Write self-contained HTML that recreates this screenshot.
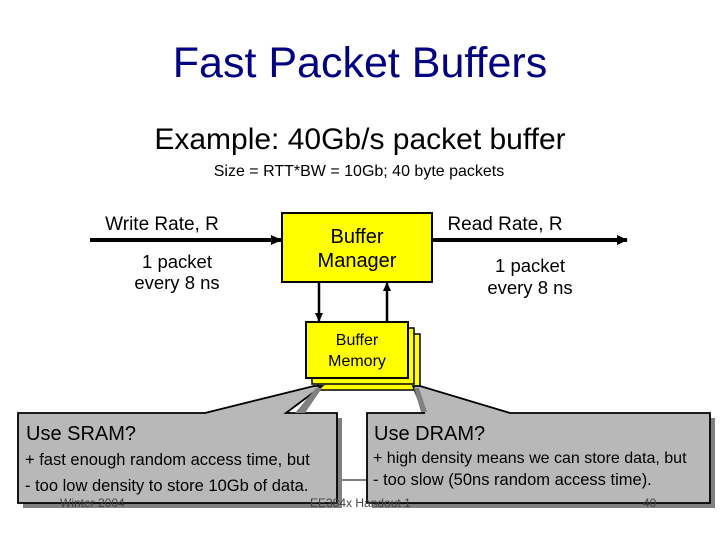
<!DOCTYPE html>
<html><head><meta charset="utf-8"><style>
body{margin:0;width:720px;height:540px;background:#fff;overflow:hidden;font-family:"Liberation Sans",sans-serif}
</style></head><body>
<svg width="720" height="540" xmlns="http://www.w3.org/2000/svg" font-family="Liberation Sans, sans-serif">
<defs><marker id="a" markerWidth="12" markerHeight="12" refX="10" refY="6" orient="auto" markerUnits="userSpaceOnUse"><path d="M0,1 L11,6 L0,11 z" fill="#000"/></marker>
<marker id="b" markerWidth="10" markerHeight="10" refX="8" refY="5" orient="auto" markerUnits="userSpaceOnUse"><path d="M0,1 L9,5 L0,9 z" fill="#000"/></marker></defs>
<text x="360" y="77" text-anchor="middle" font-size="43" fill="#000080">Fast Packet Buffers</text>
<text x="360" y="149" text-anchor="middle" font-size="30">Example: 40Gb/s packet buffer</text>
<text x="359" y="176" text-anchor="middle" font-size="16">Size = RTT*BW = 10Gb; 40 byte packets</text>
<line x1="90" y1="240" x2="281" y2="240" stroke="#000" stroke-width="4" marker-end="url(#a)"/>
<line x1="433" y1="240" x2="627" y2="240" stroke="#000" stroke-width="4" marker-end="url(#a)"/>
<text x="162" y="230" text-anchor="middle" font-size="19">Write Rate, R</text>
<text x="177" y="268" text-anchor="middle" font-size="18.5">1 packet</text>
<text x="177" y="289" text-anchor="middle" font-size="18.5">every 8 ns</text>
<text x="505" y="230" text-anchor="middle" font-size="19">Read Rate, R</text>
<text x="530" y="272" text-anchor="middle" font-size="18.5">1 packet</text>
<text x="530" y="294" text-anchor="middle" font-size="18.5">every 8 ns</text>
<rect x="282" y="213" width="150" height="69" fill="#ffff00" stroke="#000" stroke-width="2"/>
<text x="357" y="243" text-anchor="middle" font-size="20">Buffer</text>
<text x="357" y="267" text-anchor="middle" font-size="20">Manager</text>
<line x1="319" y1="282" x2="319" y2="321" stroke="#000" stroke-width="2.5" marker-end="url(#b)"/>
<line x1="387" y1="322" x2="387" y2="283" stroke="#000" stroke-width="2.5" marker-end="url(#b)"/>
<rect x="318" y="334" width="102" height="56" fill="#ffff00" stroke="#000" stroke-width="1.5"/>
<rect x="312" y="328" width="102" height="56" fill="#ffff00" stroke="#000" stroke-width="1.5"/>
<rect x="306" y="322" width="102" height="56" fill="#ffff00" stroke="#000" stroke-width="2"/>
<text x="357" y="345" text-anchor="middle" font-size="16">Buffer</text>
<text x="357" y="366" text-anchor="middle" font-size="16">Memory</text>
<line x1="337" y1="480" x2="367" y2="480" stroke="#000" stroke-width="1"/>
<rect x="23" y="418" width="319" height="90" fill="#808080"/>
<rect x="372" y="418" width="343" height="90" fill="#808080"/>
<path d="M18,413 L205,413 L314,386 L322,386 L286,413 L337,413 L337,503 L18,503 Z" fill="#b8b8b8" stroke="#000" stroke-width="1.8"/>
<polygon points="316,388 322,388 305,413 295,413" fill="#808080"/>
<path d="M367,413 L424,413 L413,386 L420,386 L510,413 L710,413 L710,503 L367,503 Z" fill="#b8b8b8" stroke="#000" stroke-width="1.8"/>
<polygon points="414,388 419,388 427,412 421,412" fill="#808080"/>
<text x="26" y="440" font-size="20">Use SRAM?</text>
<text x="25" y="465" font-size="16.5">+ fast enough random access time, but</text>
<text x="25" y="491" font-size="16.5">- too low density to store 10Gb of data.</text>
<text x="374" y="440" font-size="20">Use DRAM?</text>
<text x="373" y="463" font-size="16">+ high density means we can store data, but</text>
<text x="373" y="485" font-size="16.5">- too slow (50ns random access time).</text>
<text x="60" y="507" font-size="12" fill="#444">Winter 2004</text>
<text x="310" y="507" font-size="12" fill="#444">EE384x Handout 1</text>
<text x="643" y="507" font-size="12" fill="#444">40</text>
</svg>
</body></html>
